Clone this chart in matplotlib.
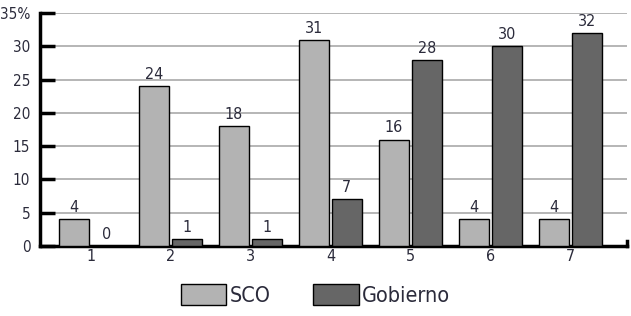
import matplotlib.pyplot as plt
import numpy as np

plt.rcParams['font.family'] = ['DejaVu Sans']
plt.rcParams['font.stretch'] = 'condensed'

categories = ['1', '2', '3', '4', '5', '6', '7']
sco = [4, 24, 18, 31, 16, 4, 4]
gobierno = [0, 1, 1, 7, 28, 30, 32]
yticks = [0, 5, 10, 15, 20, 25, 30, 35]
ytick_labels = ['0', '5', '10', '15', '20', '25', '30', '35%']

txt = '#2b2b3b'
x = np.arange(len(categories))
w = 0.375
off = 0.206

fig = plt.figure(figsize=(6.31, 3.16), dpi=100)
ax = fig.add_axes([0.0634, 0.2215, 0.930, 0.737])

b1 = ax.bar(x - off, sco, w, color='#b3b3b3', edgecolor='black', linewidth=1.0, label='SCO', zorder=3)
b2 = ax.bar(x + off, gobierno, w, color='#666666', edgecolor='black', linewidth=1.0, label='Gobierno', zorder=3)
ax.bar_label(b1, padding=3, fontsize=11.5, color=txt)
ax.bar_label(b2, padding=3, fontsize=11.5, color=txt)

ax.set_xlim(-0.633, 6.71)
ax.set_ylim(0, 35)
ax.set_xticks(x)
ax.set_xticklabels(categories, fontsize=11.5, color=txt)
ax.set_yticks(yticks)
ax.set_yticklabels(ytick_labels, fontsize=11, color=txt)
ax.tick_params(axis='x', length=0, pad=2)
ax.tick_params(axis='y', direction='in', length=11, width=2.5, pad=7)

ax.yaxis.grid(True, color='#b0b0b0', linewidth=1.3, zorder=0)
ax.set_axisbelow(True)

ax.spines['top'].set_visible(False)
ax.spines['left'].set_linewidth(2.5)
ax.spines['bottom'].set_linewidth(2.5)
ax.spines['right'].set_linewidth(2.5)
ax.spines['right'].set_bounds(0, 0.8)

fig.legend(loc='lower center', bbox_to_anchor=(0.5, -0.03), ncol=2, frameon=False,
           fontsize=15.5, handlelength=2.1, handleheight=1.15, handletextpad=0.15,
           columnspacing=2.0, labelcolor=txt)

fig.savefig('out.png', dpi=100)
